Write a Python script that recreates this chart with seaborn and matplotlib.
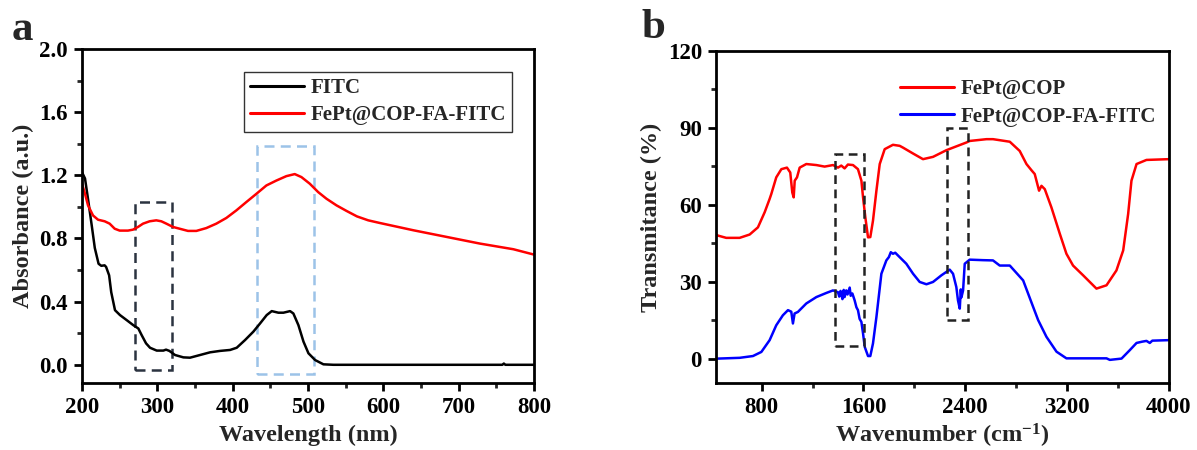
import numpy as np
import pandas as pd
import matplotlib
matplotlib.use("Agg")
import matplotlib.pyplot as plt
from matplotlib.patches import Rectangle
from matplotlib.ticker import MultipleLocator
import seaborn as sns

# ---------------- data ----------------
# Panel a: UV-vis absorbance
fitc_wl = [200, 204, 208, 213, 217, 222, 225.6, 230, 232, 236, 238.8, 243.8, 250.4, 259.3,
           268.1, 274.8, 279.2, 285, 290.3, 299.2, 308, 311.6, 316, 323.5, 334.6, 343.4,
           356.7, 370, 383.3, 396.6, 405.4, 416.5, 427.5, 436.4, 445.2, 451.9, 460.7,
           467.4, 476.2, 480.6, 487.3, 494, 500.6, 509.5, 520.5, 533.8, 600, 700, 758,
           760, 762, 800]
fitc_abs = [1.22, 1.18, 1.05, 0.88, 0.74, 0.64, 0.627, 0.63, 0.62, 0.567, 0.46, 0.346, 0.315,
            0.283, 0.251, 0.23, 0.188, 0.136, 0.108, 0.09, 0.09, 0.096, 0.088, 0.062, 0.047,
            0.045, 0.062, 0.079, 0.088, 0.094, 0.108, 0.157, 0.21, 0.262, 0.315, 0.34, 0.33,
            0.33, 0.34, 0.325, 0.251, 0.147, 0.073, 0.03, 0.003, 0.0, 0.0, 0.0, 0.0,
            0.008, 0.0, 0.0]

cop_wl = [200, 204, 208, 214.6, 221.3, 230.1, 236.7, 243.4, 250, 261, 267.7, 274.3, 281,
          289.8, 298.6, 305.3, 312, 320.8, 329.6, 340.7, 351.8, 365, 378.3, 391.6, 404.9,
          418.2, 431.5, 444.8, 458, 471.3, 482.4, 491.3, 502.4, 513.5, 524.5, 537.8, 551,
          565, 580, 595.6, 640, 684, 728, 772.6, 800]
cop_abs = [1.147, 1.083, 1.01, 0.946, 0.919, 0.909, 0.894, 0.862, 0.85, 0.85, 0.856, 0.873,
           0.894, 0.909, 0.915, 0.909, 0.894, 0.873, 0.862, 0.848, 0.848, 0.866, 0.894, 0.93,
           0.978, 1.031, 1.083, 1.136, 1.167, 1.195, 1.208, 1.189, 1.147, 1.094, 1.052, 1.01,
           0.975, 0.94, 0.915, 0.898, 0.852, 0.81, 0.768, 0.732, 0.698]

# Panel b: FTIR transmittance
red_wn = [440, 456, 522, 627, 706, 771, 824, 863, 876, 915, 955, 999, 1025, 1041, 1052, 1060,
          1078, 1099, 1151, 1230, 1295, 1361, 1400, 1426, 1452, 1478, 1518, 1557, 1584, 1597,
          1615, 1636, 1654, 1675, 1702, 1728, 1767, 1832, 1885, 1911, 1990, 2068, 2147, 2252,
          2409, 2435, 2567, 2618, 2671, 2750, 2828, 2881, 2920, 2946, 2980, 2999, 3025, 3077,
          3143, 3195, 3247, 3326, 3431, 3510, 3588, 3641, 3680, 3706, 3746, 3824, 4000]
red_t = [48.5, 48.0, 47.1, 47.1, 48.4, 51.2, 57.1, 62.3, 64.2, 70.7, 73.9, 74.5, 72.6, 64.8,
         62.9, 69.4, 70.7, 74.5, 75.9, 75.5, 74.9, 75.5, 74.5, 75.3, 74.2, 75.7, 75.5, 73.9,
         69.4, 62.9, 55.1, 47.3, 47.4, 53.8, 65.5, 75.9, 81.7, 83.4, 83.0, 82.3, 80.0, 77.8,
         78.7, 81.3, 84.3, 84.9, 85.6, 85.6, 85.2, 84.6, 81.0, 75.9, 73.5, 72.0, 65.5, 67.4,
         66.1, 59.0, 48.7, 40.9, 36.3, 32.5, 27.3, 28.6, 34.4, 42.2, 56.4, 69.4, 75.9, 77.5,
         77.8]

blue_wn = [440, 456, 627, 732, 798, 863, 915, 967, 1007, 1033, 1046, 1059, 1085, 1151, 1230,
           1308, 1361, 1400, 1410, 1420, 1426, 1435, 1445, 1452, 1465, 1475, 1492, 1500, 1513,
           1531, 1545, 1557, 1570, 1584, 1597, 1610, 1636, 1654, 1675, 1702, 1741, 1780, 1800,
           1815, 1832, 1850, 1872, 1937, 1990, 2042, 2095, 2147, 2213, 2278, 2304, 2330, 2343,
           2357, 2365, 2370, 2383, 2396, 2435, 2540, 2618, 2671, 2750, 2855, 2934, 2973, 2999,
           3038, 3117, 3195, 3326, 3510, 3536, 3628, 3693, 3746, 3790, 3824, 3850, 3870, 4000]
blue_t = [0.0, 0.0, 0.3, 1.0, 2.6, 7.2, 13.0, 16.9, 18.9, 18.3, 13.7, 17.6, 18.2, 21.5, 24.0,
          25.6, 26.6, 25.9, 24.2, 26.4, 25.5, 23.2, 26.8, 24.0, 26.6, 25.0, 27.7, 24.5, 25.4,
          22.7, 20.0, 18.9, 15.5, 14.3, 9.8, 4.6, 1.0, 1.0, 5.9, 16.2, 33.1, 38.3, 39.6, 41.5,
          40.9, 41.3, 40.2, 37.0, 33.1, 29.9, 29.0, 29.9, 32.5, 34.7, 33.1, 27.9, 22.7, 19.5,
          27.0, 23.9, 26.6, 37.0, 38.6, 38.4, 38.3, 36.3, 36.3, 30.5, 20.1, 15.0, 12.4, 8.5,
          2.7, 0.1, 0.1, 0.1, -0.5, 0.0, 3.3, 6.1, 6.6, 6.9, 6.1, 7.0, 7.2]

# dashed highlight boxes: (x0, x1, y0, y1)
boxes_a = [(271, 320, -0.036, 1.03), (432, 508, -0.057, 1.388)]
boxes_a_colors = ["#2b3340", "#9cc3e8"]
boxes_b = [(1375, 1605, 5, 80), (2255, 2425, 15, 90)]

# ---------------- style ----------------
sns.set_style("ticks")
plt.rcParams["font.family"] = ["Liberation Serif", "DejaVu Serif"]
plt.rcParams["font.weight"] = "bold"
plt.rcParams["mathtext.fontset"] = "custom"
plt.rcParams["mathtext.rm"] = "Liberation Serif:bold"
plt.rcParams["mathtext.default"] = "rm"
plt.rcParams["axes.linewidth"] = 2.0

TICK_FS = 16.5
LABEL_FS = 17.5
LEG_FS = 15

fig = plt.figure(figsize=(11.97, 4.5), dpi=100)
ax1 = fig.add_axes([0.0685, 0.149, 0.3776, 0.742])
ax2 = fig.add_axes([0.598, 0.149, 0.3785, 0.7377])

def style_axis(ax):
    for s in ax.spines.values():
        s.set_visible(True)
        s.set_linewidth(2.0)
        s.set_color("black")
    ax.tick_params(axis="both", which="major", direction="out", length=6, width=2,
                   labelsize=TICK_FS, colors="black", pad=4)
    ax.tick_params(axis="both", which="minor", direction="out", length=3.5, width=2)
    for lab in ax.get_xticklabels() + ax.get_yticklabels():
        lab.set_fontweight("bold")
    ax.grid(False)
    ax.set_facecolor("white")

# ---------------- panel a ----------------
df_fitc = pd.DataFrame({"wl": fitc_wl, "abs": fitc_abs})
df_cop = pd.DataFrame({"wl": cop_wl, "abs": cop_abs})
sns.lineplot(data=df_fitc, x="wl", y="abs", ax=ax1, color="black", linewidth=1.8,
             estimator=None, sort=False, label="FITC")
sns.lineplot(data=df_cop, x="wl", y="abs", ax=ax1, color="#ff0000", linewidth=1.8,
             estimator=None, sort=False, label="FePt@COP-FA-FITC")
for (x0, x1, y0, y1), c in zip(boxes_a, boxes_a_colors):
    ax1.add_patch(Rectangle((x0, y0), x1 - x0, y1 - y0, fill=False, edgecolor=c,
                            linewidth=1.8, linestyle=(0, (4, 2.5)), zorder=1))
ax1.set_xlim(200, 800)
ax1.set_ylim(-0.115, 2.0)
ax1.xaxis.set_major_locator(MultipleLocator(100))
ax1.xaxis.set_minor_locator(MultipleLocator(50))
ax1.yaxis.set_major_locator(MultipleLocator(0.4))
ax1.yaxis.set_minor_locator(MultipleLocator(0.2))
ax1.set_yticks([0.0, 0.4, 0.8, 1.2, 1.6, 2.0])
ax1.set_yticklabels(["0.0", "0.4", "0.8", "1.2", "1.6", "2.0"])
ax1.set_xlabel("Wavelength (nm)", fontsize=LABEL_FS, fontweight="bold", labelpad=5)
ax1.set_ylabel("Absorbance (a.u.)", fontsize=LABEL_FS, fontweight="bold", labelpad=4)
style_axis(ax1)
leg1 = ax1.legend(loc="upper right", bbox_to_anchor=(0.975, 0.963), fontsize=LEG_FS,
                  frameon=True, fancybox=False, handlelength=2.6, handletextpad=0.3,
                  borderpad=0.3, labelspacing=0.35, prop={"weight": "bold", "size": LEG_FS})
leg1.get_frame().set_edgecolor("black")
leg1.get_frame().set_linewidth(1.0)
for l in leg1.get_lines():
    l.set_linewidth(2.2)

# ---------------- panel b ----------------
df_red = pd.DataFrame({"wn": red_wn, "t": red_t})
df_blue = pd.DataFrame({"wn": blue_wn, "t": blue_t})
sns.lineplot(data=df_red, x="wn", y="t", ax=ax2, color="#ff0000", linewidth=1.8,
             estimator=None, sort=False, label="FePt@COP")
sns.lineplot(data=df_blue, x="wn", y="t", ax=ax2, color="#0000ff", linewidth=1.8,
             estimator=None, sort=False, label="FePt@COP-FA-FITC")
for (x0, x1, y0, y1) in boxes_b:
    ax2.add_patch(Rectangle((x0, y0), x1 - x0, y1 - y0, fill=False, edgecolor="#222222",
                            linewidth=1.8, linestyle=(0, (3.5, 2.2)), zorder=3))
ax2.set_xlim(440, 4000)
ax2.set_ylim(-9.5, 120)
ax2.xaxis.set_major_locator(MultipleLocator(800))
ax2.xaxis.set_minor_locator(MultipleLocator(400))
ax2.yaxis.set_major_locator(MultipleLocator(30))
ax2.yaxis.set_minor_locator(MultipleLocator(15))
ax2.set_xlabel("Wavenumber (cm$^{-1}$)", fontsize=LABEL_FS, fontweight="bold", labelpad=3)
ax2.set_ylabel("Transmitance (%)", fontsize=LABEL_FS, fontweight="bold", labelpad=4)
style_axis(ax2)
leg2 = ax2.legend(loc="upper left", bbox_to_anchor=(0.37, 0.965), fontsize=LEG_FS,
                  frameon=False, handlelength=2.6, handletextpad=0.3, borderpad=0.3,
                  labelspacing=0.35, prop={"weight": "bold", "size": LEG_FS})
for l in leg2.get_lines():
    l.set_linewidth(2.2)

# panel letters
fig.text(22 / 1197, 1 - 30 / 450, "a", fontsize=31, fontweight="bold", ha="center", va="center")
fig.text(653 / 1197, 1 - 28 / 450, "b", fontsize=31, fontweight="bold", ha="center", va="center")

fig.savefig("out.png", dpi=100, facecolor="white")
